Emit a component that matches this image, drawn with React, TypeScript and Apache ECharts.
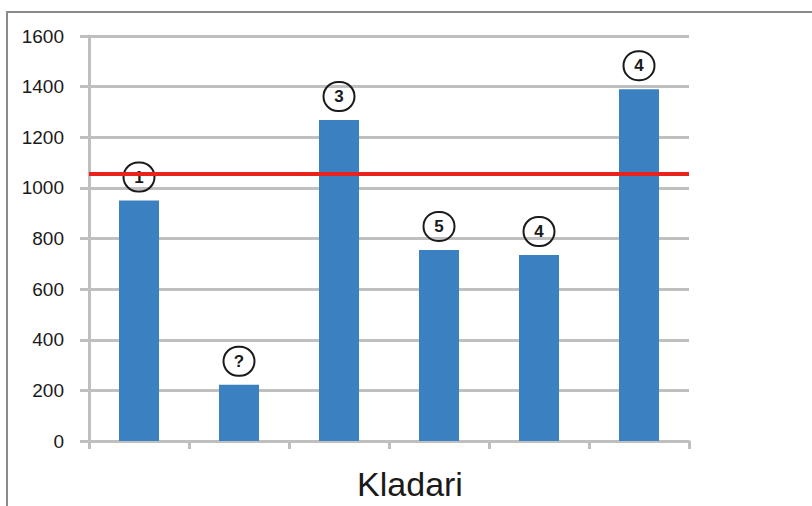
import React, { useEffect, useRef } from "react";
import * as echarts from "echarts";

const categories = ["A", "B", "C", "D", "E", "F"];
const values = [950, 222, 1268, 755, 735, 1390];
const badges = ["1", "?", "3", "5", "4", "4"];
const thresholdValue = 1055;
const yTicks = { min: 0, max: 1600, interval: 200 };
const axisTitle = "Kladari";

export default function App() {
  const ref = useRef<HTMLDivElement>(null);
  useEffect(() => {
    const chart = echarts.init(ref.current!, null, { renderer: "svg" });
    chart.setOption({
      animation: false,
      backgroundColor: "#ffffff",
      graphic: [
        {
          type: "rect",
          shape: { x: 7, y: 12, width: 900, height: 600 },
          style: { fill: "none", stroke: "#8a8a8a", lineWidth: 2 },
          silent: true,
        },
      ],
      grid: { left: 89, right: 123, top: 36, bottom: 63 },
      xAxis: {
        type: "category",
        data: categories,
        name: axisTitle,
        nameLocation: "middle",
        nameGap: 26,
        nameTextStyle: {
          fontFamily: "Liberation Sans",
          fontSize: 34,
          color: "#1a1a1a",
          padding: [0, 0, 0, 42],
        },
        axisLabel: { show: false },
        axisLine: { lineStyle: { color: "#bfbfbf", width: 3 } },
        axisTick: { show: true, length: 8, lineStyle: { color: "#bfbfbf", width: 3 } },
        splitLine: { show: false },
      },
      yAxis: {
        type: "value",
        min: yTicks.min,
        max: yTicks.max,
        interval: yTicks.interval,
        axisLine: { show: true, lineStyle: { color: "#bfbfbf", width: 3 } },
        axisTick: { show: true, length: 9, lineStyle: { color: "#bfbfbf", width: 3 } },
        axisLabel: {
          margin: 25,
          fontFamily: "Liberation Sans",
          fontSize: 19,
          color: "#1a1a1a",
          formatter: (v: number) => String(v),
        },
        splitLine: { lineStyle: { color: "#bfbfbf", width: 3 } },
      },
      series: [
        {
          type: "bar",
          data: values,
          barWidth: "40%",
          itemStyle: { color: "#3b80c0" },
          label: {
            show: true,
            position: "top",
            distance: 9,
            formatter: (p: any) => `{c|${badges[p.dataIndex]}}`,
            rich: {
              c: {
                width: 31,
                height: 29,
                lineHeight: 29,
                align: "center",
                borderRadius: 16,
                borderWidth: 2,
                borderColor: "#1a1a1a",
                fontFamily: "Liberation Sans",
                fontWeight: "bold",
                fontSize: 17,
                color: "#1a1a1a",
              },
            },
          },
          markLine: {
            symbol: "none",
            silent: true,
            label: { show: false },
            lineStyle: { color: "#e8231e", width: 4, type: "solid" },
            data: [{ yAxis: thresholdValue }],
          },
        },
      ],
    });
    return () => chart.dispose();
  }, []);
  return (
    <div
      ref={ref}
      style={{ position: "fixed", left: 0, top: 0, width: 812, height: 506 }}
    />
  );
}
